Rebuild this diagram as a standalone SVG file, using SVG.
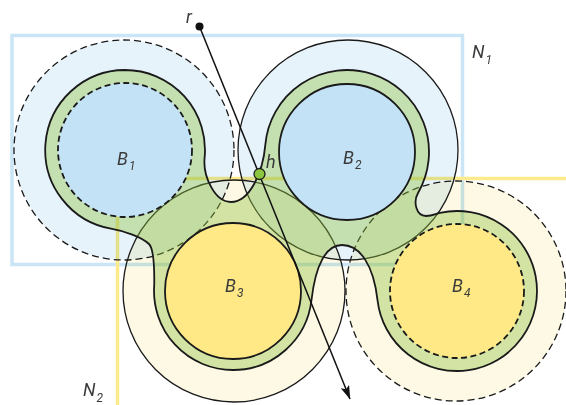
<svg xmlns="http://www.w3.org/2000/svg" width="566" height="405" viewBox="0 0 566 405">
<defs>
<marker id="arrow" markerWidth="14" markerHeight="9" refX="13.5" refY="4.5" orient="auto" markerUnits="userSpaceOnUse">
<path d="M0,0 L14,4.5 L0,9 L3,4.5 Z" fill="#111"/>
</marker>
</defs>
<style>
.mul{mix-blend-mode:multiply}
.oblue{fill:#e7f3fb}
.oyel{fill:#fdf9e5}
.oline{fill:none;stroke:#1a1a1a;stroke-width:1.3}
.dash{stroke-dasharray:7 4}
.ib{fill:#c3e2f5;stroke:#1a1a1a;stroke-width:1.8}
.iy{fill:#fee986;stroke:#1a1a1a;stroke-width:1.8}
.idash{stroke-dasharray:6 3.5}
.lbl{font-family:Roboto,"Liberation Sans",sans-serif;font-style:italic;font-weight:400;fill:#3a3a3a;font-size:18px}
.sub{font-size:12px}
</style>
<rect x="0" y="0" width="566" height="405" fill="#ffffff"/>
<g id="N1"><rect x="12" y="35.5" width="450.5" height="229" fill="none" stroke="#c9e5f6" stroke-width="3.5"/></g>
<g id="N2"><rect x="117.5" y="178.5" width="460" height="240" fill="none" stroke="#fcea8c" stroke-width="3.5"/></g>
<g id="outer">
<circle class="mul oblue" cx="124" cy="150" r="110"/>
<circle class="mul oblue" cx="348" cy="150" r="110"/>
<circle class="mul oyel" cx="234" cy="291" r="111"/>
<circle class="mul oyel" cx="456" cy="291" r="110"/>
<circle class="oline dash" cx="124" cy="150" r="110"/>
<circle class="oline" cx="348" cy="150" r="110"/>
<circle class="oline" cx="234" cy="291" r="111"/>
<circle class="oline dash" cx="456" cy="291" r="110"/>
</g>
<g id="tube">
<path d="M125,70 A80,80 0 0 1 204.56,158.36 C203,175 214,202 231,202 C250,202 262.96,171.7 265.31,144.85 A82,82 0 1 1 418.01,193 C413,201.7 416,216 426,216 C433,216 435.1,213.9 440,212.83 A80,80 0 1 1 377.51,300.06 C373.5,265 360,245 342,245 C326,245 315.5,265 311.5,300 A79,79 0 0 1 233,370 A79,79 0 0 1 154.23,285.01 C154.5,265 153.2,248.2 149,244 C142,237 123.8,230.9 112,228.9 A80,80 0 0 1 125,70 Z" fill="#92c340" fill-opacity="0.4" stroke="#1a1a1a" stroke-width="1.8"/>
</g>
<g id="B1"><circle class="ib idash" cx="125" cy="150" r="67"/>
<text class="lbl" x="117" y="165">B<tspan class="sub" dx="1" dy="5">1</tspan></text></g>
<g id="B2"><circle class="ib" cx="347" cy="152" r="68"/>
<text class="lbl" x="343" y="164">B<tspan class="sub" dx="1" dy="5">2</tspan></text></g>
<g id="B3"><circle class="iy" cx="233" cy="291" r="68"/>
<text class="lbl" x="225" y="292">B<tspan class="sub" dx="1" dy="5">3</tspan></text></g>
<g id="B4"><circle class="iy idash" cx="457" cy="291" r="67"/>
<text class="lbl" x="452" y="292">B<tspan class="sub" dx="1" dy="5">4</tspan></text></g>
<g id="labels">
<text class="lbl" x="472" y="58">N<tspan class="sub" dx="1" dy="6">1</tspan></text>
<text class="lbl" x="83" y="396">N<tspan class="sub" dx="1" dy="6">2</tspan></text>
</g>
<g id="connectors">
<line x1="199.5" y1="26.5" x2="350" y2="399" stroke="#111" stroke-width="1.5" marker-end="url(#arrow)"/>
</g>
<g id="r"><circle cx="199.5" cy="26.5" r="4" fill="#111"/>
<text class="lbl" x="186" y="23">r</text></g>
<g id="h"><circle cx="259.5" cy="174" r="5.5" fill="#8cc63f" stroke="#1a1a1a" stroke-width="1.3"/>
<text class="lbl" x="266" y="168">h</text></g>
</svg>
